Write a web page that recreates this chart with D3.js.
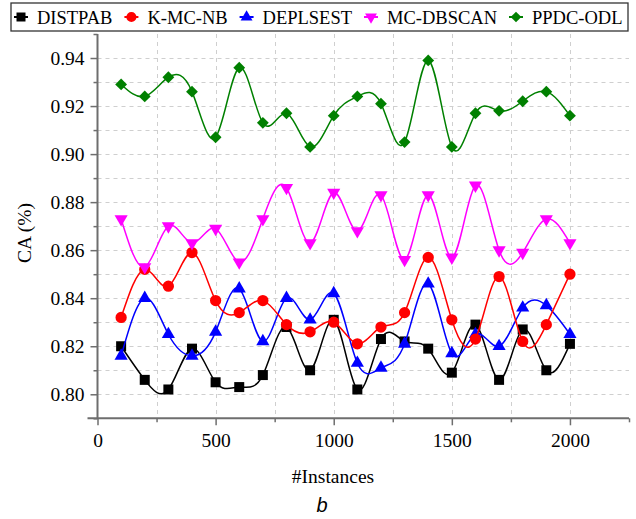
<!DOCTYPE html>
<html>
<head>
<meta charset="utf-8">
<script src="https://cdn.jsdelivr.net/npm/d3@7/dist/d3.min.js"></script>
<style>
  html, body { margin: 0; padding: 0; background: #fff; }
  svg { display: block; }
</style>
</head>
<body>
<svg id="chart" width="636" height="519"></svg>
<script>
const instances = [100,200,300,400,500,600,700,800,900,1000,1100,1200,1300,1400,1500,1600,1700,1800,1900,2000];

const DISTPAB  = [0.820,0.806,0.802,0.819,0.805,0.803,0.808,0.828,0.810,0.831,0.802,0.823,0.822,0.819,0.809,0.829,0.806,0.827,0.810,0.821];
const KMCNB    = [0.832,0.852,0.845,0.859,0.839,0.834,0.839,0.829,0.826,0.830,0.821,0.828,0.834,0.857,0.831,0.823,0.849,0.822,0.829,0.850];
const DEPLSEST = [0.816,0.840,0.825,0.816,0.826,0.844,0.822,0.840,0.831,0.842,0.813,0.811,0.821,0.846,0.817,0.825,0.820,0.836,0.837,0.825];
const MCDBSCAN = [0.873,0.853,0.870,0.863,0.869,0.855,0.873,0.886,0.863,0.884,0.868,0.883,0.856,0.883,0.857,0.887,0.860,0.859,0.873,0.863];
const PPDCODL  = [0.929,0.924,0.932,0.926,0.907,0.936,0.913,0.917,0.903,0.916,0.924,0.921,0.905,0.939,0.903,0.917,0.918,0.922,0.926,0.916];

const seriesNames  = ["DISTPAB","K-MC-NB","DEPLSEST","MC-DBSCAN","PPDC-ODL"];
const seriesValues = [DISTPAB, KMCNB, DEPLSEST, MCDBSCAN, PPDCODL];
const seriesColors = ["#000000","#ff0000","#0000ff","#ff00ff","#008000"];
const seriesShapes = ["square","circle","triangle","triangleDown","diamond"];
const drawOrder    = [0,2,1,3,4];

const xMajorTicks = [0,500,1000,1500,2000];
const xMinorTicks = [250,750,1250,1750,2250];
const yMajorTicks = [0.80,0.82,0.84,0.86,0.88,0.90,0.92,0.94];
const yMinorTicks = [0.79,0.81,0.83,0.85,0.87,0.89,0.91,0.93,0.95];
const xGrid = [250,500,750,1000,1250,1500,1750,2000];
const yGrid = [0.80,0.81,0.82,0.83,0.84,0.85,0.86,0.87,0.88,0.89,0.90,0.91,0.92,0.93,0.94];

const xTitle = "#Instances";
const yTitle = "CA (%)";
const subLabel = "b";

const serif = "'Liberation Serif','Times New Roman',serif";
const svg = d3.select("#chart");

const x = d3.scaleLinear().domain([0, 2250]).range([97.5, 629]);
const y = d3.scaleLinear().domain([0.79, 0.95]).range([418.3, 34]);

// grid
const grid = svg.append("g").attr("stroke", "#cfcfcf").attr("stroke-width", 1).attr("stroke-dasharray", "4,4");
grid.selectAll("line.h").data(yGrid).join("line")
  .attr("x1", x(0)).attr("x2", x(2250))
  .attr("y1", d => Math.round(y(d)) + 0.5).attr("y2", d => Math.round(y(d)) + 0.5);
grid.selectAll("line.v").data(xGrid).join("line")
  .attr("x1", d => Math.round(x(d)) + 0.5).attr("x2", d => Math.round(x(d)) + 0.5)
  .attr("y1", y(0.95)).attr("y2", y(0.79));

// axes
const axisColor = "#6e6e6e";
const gx = svg.append("g").attr("transform", `translate(0,${y(0.79)})`)
  .call(d3.axisBottom(x).tickValues(xMajorTicks).tickSize(7).tickSizeOuter(0).tickPadding(8).tickFormat(d3.format("d")));
const gxm = svg.append("g").attr("transform", `translate(0,${y(0.79)})`)
  .call(d3.axisBottom(x).tickValues(xMinorTicks).tickSize(4).tickSizeOuter(0).tickFormat(""));
gxm.select(".domain").remove();

const gy = svg.append("g").attr("transform", `translate(${x(0)},0)`)
  .call(d3.axisLeft(y).tickValues(yMajorTicks).tickSize(7).tickSizeOuter(0).tickPadding(6).tickFormat(d3.format(".2f")));
const gym = svg.append("g").attr("transform", `translate(${x(0)},0)`)
  .call(d3.axisLeft(y).tickValues(yMinorTicks).tickSize(4).tickSizeOuter(0).tickFormat(""));
gym.select(".domain").remove();

[gx, gxm, gy, gym].forEach(g => {
  g.attr("font-family", null).attr("font-size", null);
  g.selectAll(".domain").attr("stroke", axisColor).attr("stroke-width", 2);
  g.selectAll(".tick line").attr("stroke", axisColor).attr("stroke-width", 1.5);
  g.selectAll(".tick text").attr("fill", "#000").style("font-family", serif).style("font-size", "19.5px");
});
gx.select(".domain").attr("d", `M${x(0) - 10},0H${x(2250)}`);
gy.select(".domain").attr("d", `M0,${y(0.79)}V${y(0.95)}`);

// axis titles
svg.append("text").attr("x", 333).attr("y", 483).attr("text-anchor", "middle")
  .style("font-family", serif).style("font-size", "19.5px").text(xTitle);
svg.append("text").attr("transform", "translate(31,233) rotate(-90)").attr("text-anchor", "middle")
  .style("font-family", serif).style("font-size", "19.5px").text(yTitle);
svg.append("text").attr("x", 322).attr("y", 512).attr("text-anchor", "middle")
  .style("font-family", "'Liberation Sans',Arial,sans-serif").style("font-style", "italic").style("font-size", "20px").text(subLabel);

// symbols
function symbolPath(shape) {
  if (shape === "square") return d3.symbol().type(d3.symbolSquare).size(100)();
  if (shape === "circle") return d3.symbol().type(d3.symbolCircle).size(100)();
  if (shape === "triangle") return d3.symbol().type(d3.symbolTriangle).size(75)();
  if (shape === "triangleDown") return d3.symbol().type(d3.symbolTriangle).size(75)();
  if (shape === "diamond") return d3.symbol().type(d3.symbolSquare).size(70)();
}
function symbolRotate(shape) {
  if (shape === "triangleDown") return 180;
  if (shape === "diamond") return 45;
  return 0;
}

const line = d3.line().x(d => x(d[0])).y(d => y(d[1])).curve(d3.curveNatural);

drawOrder.forEach(i => {
  const pts = instances.map((xi, k) => [xi, seriesValues[i][k]]);
  const g = svg.append("g");
  g.append("path").attr("d", line(pts)).attr("fill", "none")
    .attr("stroke", seriesColors[i]).attr("stroke-width", 1.5);
  g.selectAll("path.m").data(pts).join("path").attr("class", "m")
    .attr("d", symbolPath(seriesShapes[i]))
    .attr("transform", d => `translate(${x(d[0])},${y(d[1])}) rotate(${symbolRotate(seriesShapes[i])})`)
    .attr("fill", seriesColors[i]);
});

// legend
const legend = svg.append("g");
legend.append("rect").attr("x", 11).attr("y", 3).attr("width", 617).attr("height", 28)
  .attr("fill", "#fff").attr("stroke", "#333").attr("stroke-width", 1.3);
let cx = 14;
seriesNames.forEach((name, i) => {
  const item = legend.append("g").attr("transform", `translate(${cx},17)`);
  item.append("line").attr("x1", 0).attr("x2", 14).attr("y1", 0).attr("y2", 0)
    .attr("stroke", seriesColors[i]).attr("stroke-width", 2);
  item.append("path").attr("d", symbolPath(seriesShapes[i]))
    .attr("transform", `translate(7,0) rotate(${symbolRotate(seriesShapes[i])}) scale(0.9)`)
    .attr("fill", seriesColors[i]);
  const t = item.append("text").attr("x", 23).attr("y", 6.5)
    .style("font-family", serif).style("font-size", "18.5px").text(name);
  cx += 23 + t.node().getComputedTextLength() + 12;
});
</script>
</body>
</html>
